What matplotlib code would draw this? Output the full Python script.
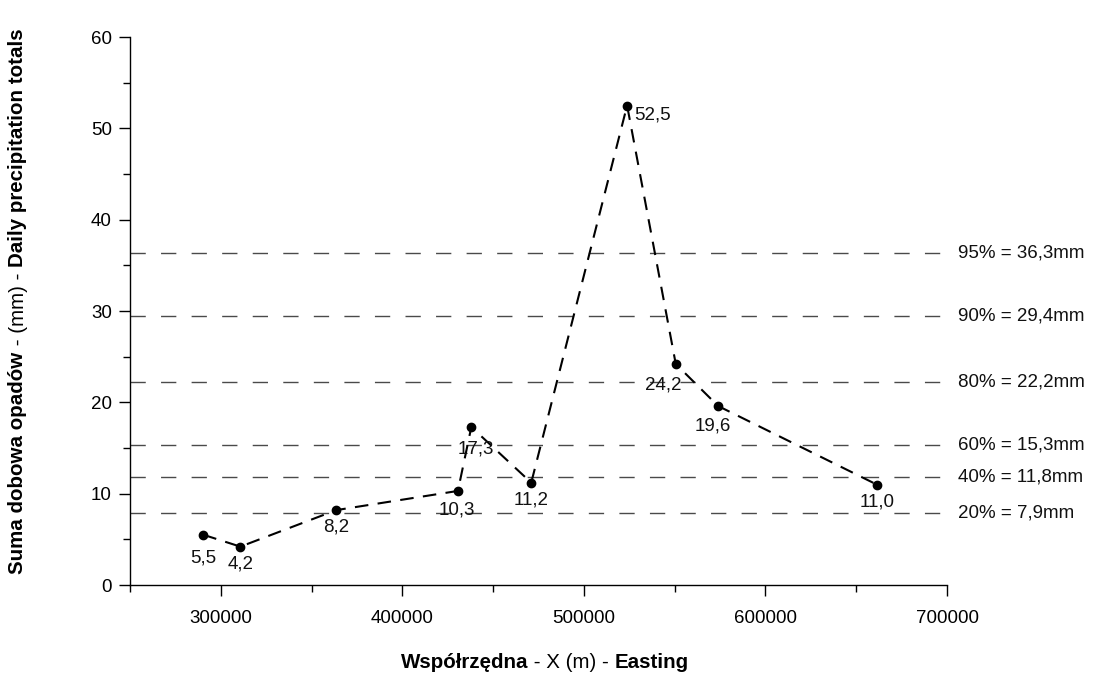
import matplotlib
matplotlib.use("Agg")
import matplotlib.pyplot as plt
from matplotlib.ticker import MultipleLocator, FixedLocator

plt.rcParams['font.family'] = ['Liberation Sans', 'DejaVu Sans']

# Station easting (m) and daily precipitation totals (mm)
easting = [290400, 310800, 363600, 430600, 438000, 471000, 523800, 550600, 573900, 661300]
precip = [5.5, 4.2, 8.2, 10.3, 17.3, 11.2, 52.5, 24.2, 19.6, 11.0]

# Percentile thresholds of daily precipitation
pct_levels = [20, 40, 60, 80, 90, 95]
pct_values = [7.9, 11.8, 15.3, 22.2, 29.4, 36.3]

x_ticks = [300000, 400000, 500000, 600000, 700000]
y_ticks = [0, 10, 20, 30, 40, 50, 60]

# label offsets (points) for each station value
label_offsets = [(0, -16.5), (0, -12.7), (0, -12.5), (-1, -13.4), (3, -15.5),
                 (0, -12.7), (18, -6.7), (-9, -14.9), (-4, -14.4), (0, -12.7)]

FS = 13.5
FS_LABEL = 14.8

fig = plt.figure(figsize=(10.94, 6.75), dpi=100)
ax = fig.add_axes([130 / 1094, 1 - 585 / 675, (947 - 130) / 1094, (585 - 37) / 675])

ax.set_xlim(250000, 700000)
ax.set_ylim(0, 60)

for lvl, val in zip(pct_levels, pct_values):
    ax.axhline(val, color='#4a4a4a', lw=1.0, linestyle=(0, (11, 11)), zorder=1)
    ax.text(1.014, val, f"{lvl}% = {val:.1f}mm".replace('.', ','),
            transform=ax.get_yaxis_transform(), ha='left', va='center',
            fontsize=FS, color='#111111')

ax.plot(easting, precip, color='black', lw=1.5, linestyle=(0, (6.5, 4.5)),
        marker='o', markersize=6, markerfacecolor='black', markeredgecolor='black',
        zorder=3)

for x, y, (dx, dy) in zip(easting, precip, label_offsets):
    ax.annotate(f"{y:.1f}".replace('.', ','), (x, y), xytext=(dx, dy),
                textcoords='offset points', ha='center', va='center',
                fontsize=FS, color='#111111', zorder=4)

ax.xaxis.set_major_locator(FixedLocator(x_ticks))
ax.xaxis.set_minor_locator(MultipleLocator(50000))
ax.yaxis.set_major_locator(FixedLocator(y_ticks))
ax.yaxis.set_minor_locator(MultipleLocator(5))
ax.set_xticklabels([str(t) for t in x_ticks])
ax.set_yticklabels([str(t) for t in y_ticks])

ax.tick_params(which='major', direction='out', length=8, width=1, labelsize=FS,
               colors='black', pad=5)
ax.tick_params(which='minor', direction='out', length=5, width=1)
ax.tick_params(axis='x', which='major', pad=10)

for s in ('top', 'right'):
    ax.spines[s].set_visible(False)
for s in ('left', 'bottom'):
    ax.spines[s].set_linewidth(1)

fig.canvas.draw()
renderer = fig.canvas.get_renderer()
W, H = fig.bbox.width, fig.bbox.height


def mixed_label(parts, cx, cy, vertical=False):
    """Draw consecutive text pieces of differing weight centred at (cx, cy) pixels."""
    texts = []
    for s, w in parts:
        t = fig.text(0, 0, s, fontsize=FS_LABEL, fontweight=w,
                     rotation=90 if vertical else 0,
                     ha='left' if not vertical else 'center',
                     va='center' if not vertical else 'bottom')
        texts.append(t)
    sizes = []
    for t in texts:
        bb = t.get_window_extent(renderer)
        sizes.append(bb.height if vertical else bb.width)
    total = sum(sizes)
    pos = (cy if vertical else cx) - total / 2
    for t, sz in zip(texts, sizes):
        if vertical:
            t.set_position((cx / W, pos / H))
        else:
            t.set_position((pos / W, cy / H))
        pos += sz


mixed_label([("Współrzędna", 'bold'), (" - X (m) - ", 'normal'), ("Easting", 'bold')],
            545, 675 - 662)
mixed_label([("Suma dobowa opadów", 'bold'), (" - (mm) - ", 'normal'),
             ("Daily precipitation totals", 'bold')],
            18, 675 - 301, vertical=True)

fig.savefig("out.png", dpi=100)
